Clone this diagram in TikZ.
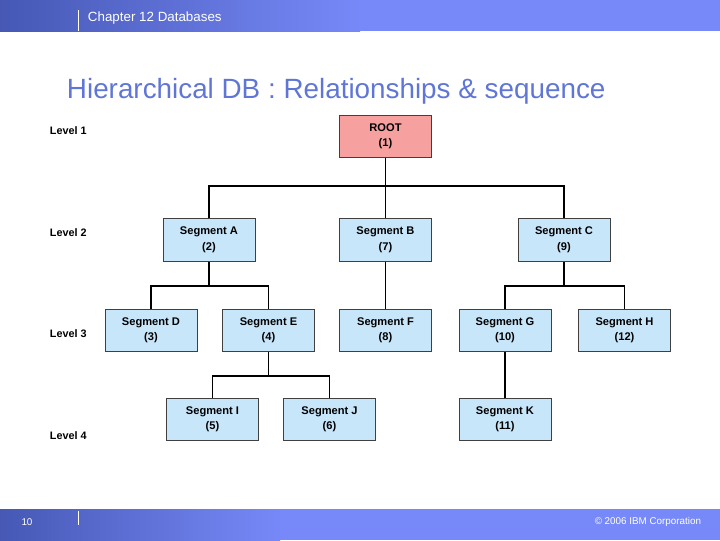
\documentclass[tikz,border=0pt]{standalone}
\usepackage{fontspec}
\setmainfont{Liberation Sans}
\definecolor{bandblue}{RGB}{119,137,248}
\definecolor{banddark}{RGB}{70,88,180}
\definecolor{titleblue}{RGB}{96,118,214}
\definecolor{segblue}{RGB}{200,230,250}
\definecolor{rootpink}{RGB}{246,160,160}
\tikzset{
  segbox/.style={draw=black!75, fill=segblue, line width=0.6pt, minimum width=2.3cm,
    minimum height=1.07cm, align=center, font=\bfseries\fontsize{7.9}{11}\selectfont},
  rootbox/.style={segbox, fill=rootpink},
  levellabel/.style={anchor=west, font=\bfseries\fontsize{7.7}{9}\selectfont},
  link/.style={draw, line width=0.9pt},
  band/.style={left color=banddark, right color=bandblue}
}
\begin{document}
\begin{tikzpicture}[x=0.025cm, y=-0.025cm]
    \useasboundingbox (0,0) rectangle (720,540);
    % Draw the header band
    \fill[bandblue] (0,0) rectangle (720,31);
    \begin{scope}
      \clip (0,0) rectangle (360,31);
      \shade[band] (-2,-2) rectangle (362,33);
    \end{scope}
    \draw[white, line width=0.6pt] (78,10) -- (78,31);
    \node[anchor=west, text=white, font=\fontsize{9.5}{11}\selectfont] (chapter) at (83,18) {Chapter 12 Databases};
    % Draw the footer band
    \fill[bandblue] (0,509) rectangle (720,540);
    \begin{scope}
      \clip (0,509) rectangle (280,540);
      \shade[band] (-2,507) rectangle (282,542);
    \end{scope}
    \draw[white, line width=0.6pt] (78,511) -- (78,525);
    \node[text=white, font=\fontsize{7}{8}\selectfont] (pagenum) at (27,522) {10};
    \node[anchor=east, text=white, font=\fontsize{7}{8}\selectfont] (copyright) at (706,522) {© 2006 IBM Corporation};
    % Draw the title
    \node[anchor=west, text=titleblue, font=\fontsize{19.8}{23}\selectfont] (title) at (62,91) {Hierarchical DB : Relationships \& sequence};
    % Draw the level labels
    \node[levellabel] (lvl1) at (45,131) {Level 1};
    \node[levellabel] (lvl2) at (45,233) {Level 2};
    \node[levellabel] (lvl3) at (45,334) {Level 3};
    \node[levellabel] (lvl4) at (45,436) {Level 4};
    % Draw the segments
    \node[rootbox] (root) at (385.5,136.5) {ROOT\\(1)};
    \node[segbox] (segA) at (209,240) {Segment A\\(2)};
    \node[segbox] (segB) at (385.5,240) {Segment B\\(7)};
    \node[segbox] (segC) at (564,240) {Segment C\\(9)};
    \node[segbox] (segD) at (151,330.5) {Segment D\\(3)};
    \node[segbox] (segE) at (268.5,330.5) {Segment E\\(4)};
    \node[segbox] (segF) at (385.5,330.5) {Segment F\\(8)};
    \node[segbox] (segG) at (505,330.5) {Segment G\\(10)};
    \node[segbox] (segH) at (624.5,330.5) {Segment H\\(12)};
    \node[segbox] (segI) at (212.5,419.5) {Segment I\\(5)};
    \node[segbox] (segJ) at (329.5,419.5) {Segment J\\(6)};
    \node[segbox] (segK) at (505,419.5) {Segment K\\(11)};
    % Draw the branch points
    \coordinate (jroot) at (385.5,186);
    \coordinate (jA) at (209,286);
    \coordinate (jC) at (564,286);
    \coordinate (jE) at (268.5,376);
    % Draw the links
    \draw[link] (root) -- (jroot) -| (segA);
    \draw[link] (jroot) -| (segC);
    \draw[link] (jroot) -- (segB);
    \draw[link] (segA) -- (jA) -| (segD);
    \draw[link] (jA) -| (segE);
    \draw[link] (segC) -- (jC) -| (segG);
    \draw[link] (jC) -| (segH);
    \draw[link] (segE) -- (jE) -| (segI);
    \draw[link] (jE) -| (segJ);
    \draw[link] (segB) -- (segF);
    \draw[link] (segG) -- (segK);
\end{tikzpicture}
\end{document}
